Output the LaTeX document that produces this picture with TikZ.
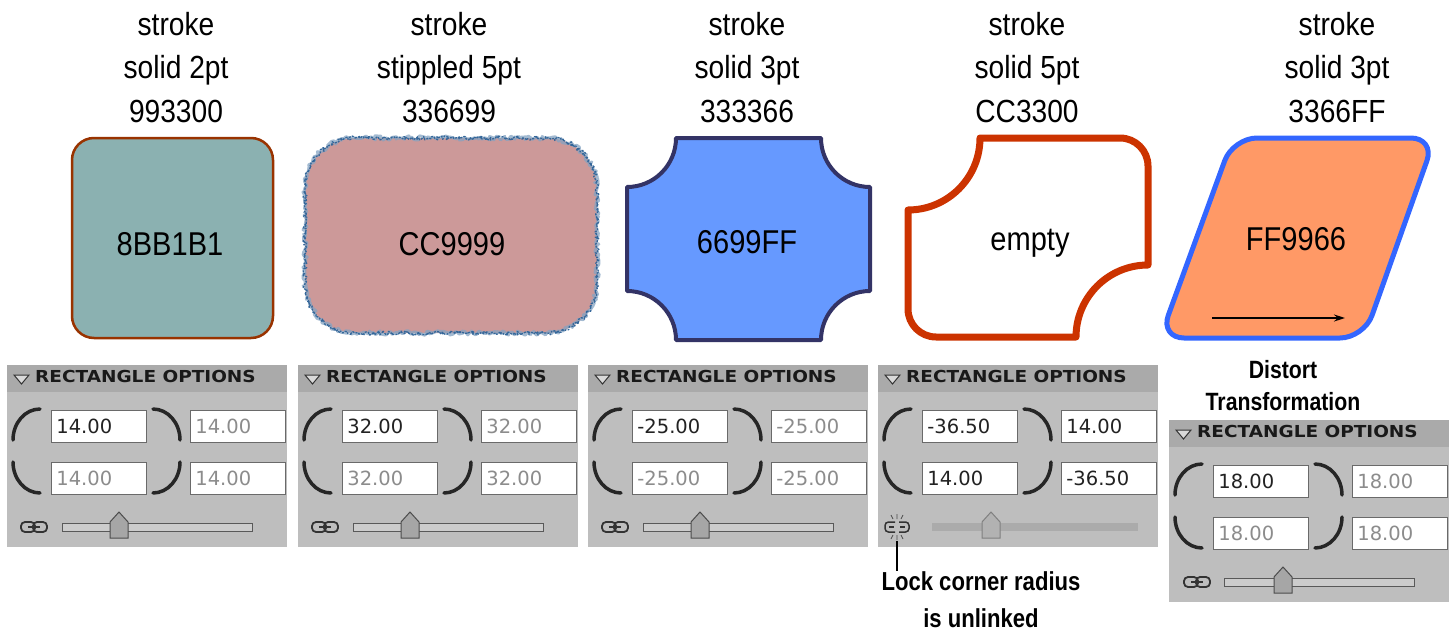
\documentclass[tikz,border=0pt]{standalone}
\usepackage{fontspec}
\setmainfont{Liberation Sans}
\newfontfamily\labfont[FakeStretch=0.88]{Liberation Sans}
\newfontfamily\notefont[FakeStretch=0.85]{Liberation Sans}
\newfontfamily\hdrfont[FakeStretch=1.12]{DejaVu Sans}
\newfontfamily\boxfont{DejaVu Sans}
\usetikzlibrary{decorations.pathmorphing,arrows.meta}
\definecolor{tealfill}{HTML}{8BB1B1}
\definecolor{tealline}{HTML}{993300}
\definecolor{pinkfill}{HTML}{CC9999}
\definecolor{pinkline}{HTML}{336699}
\definecolor{bluefill}{HTML}{6699FF}
\definecolor{blueline}{HTML}{333366}
\definecolor{redline}{HTML}{CC3300}
\definecolor{orangefill}{HTML}{FF9966}
\definecolor{orangeline}{HTML}{3366FF}
\definecolor{hdrgray}{HTML}{AAAAAA}
\definecolor{bodygray}{HTML}{BEBEBE}
\definecolor{valdark}{HTML}{222222}
\definecolor{valgray}{HTML}{8C8C8C}
\definecolor{boxedge}{HTML}{6A6A6A}
\newcommand\rpanel[8]{%
  \fill[hdrgray] (#1,#2) rectangle ({#1+280},{#2+27});
  \fill[bodygray] (#1,{#2+27}) rectangle ({#1+280},{#2+182});
  \draw[fill=white!85!black, draw=black!80, line width=1pt] ({#1+7},{#2+10}) -- ({#1+22},{#2+10}) -- ({#1+14.5},{#2+19}) -- cycle;
  \node[hdr] (#3h) at ({#1+28},{#2+17}) {RECTANGLE OPTIONS};
  \node[valbox, text=valdark] (#3a) at ({#1+44},{#2+45}) {#4};
  \node[valbox, text=#8] (#3b) at ({#1+183},{#2+45}) {#5};
  \node[valbox, text=#8] (#3c) at ({#1+44},{#2+97}) {#6};
  \node[valbox, text=#8] (#3d) at ({#1+183},{#2+97}) {#7};
  \draw[brk] ({#1+33},{#2+44}) arc[start angle=270, end angle=180, x radius=27, y radius=31];
  \draw[brk] ({#1+6},{#2+97}) arc[start angle=180, end angle=90, x radius=27, y radius=31];
  \draw[brk] ({#1+146},{#2+44}) arc[start angle=270, end angle=360, x radius=27, y radius=31];
  \draw[brk] ({#1+173},{#2+97}) arc[start angle=0, end angle=90, x radius=27, y radius=31];
}
\newcommand\rslider[4]{% L, T, thumb offset, track end offset
  \draw[fill=black!20, draw=black!65, line width=1pt] ({#1+55},{#2+158}) rectangle ({#1+#4},{#2+166});
  \draw[fill=black!35, draw=black!70, line width=1pt] ({#1+#3-9},{#2+173}) -- ({#1+#3+9},{#2+173}) -- ({#1+#3+9},{#2+157}) -- ({#1+#3},{#2+147}) -- ({#1+#3-9},{#2+157}) -- cycle;
}
\newcommand\rlink[2]{%
  \draw[lnk, rounded corners=4pt] ({#1-13},{#2-5}) rectangle ({#1+1},{#2+5});
  \draw[lnk, rounded corners=4pt] ({#1-1},{#2-5}) rectangle ({#1+13},{#2+5});
  \draw[lnk] ({#1-6},#2) -- ({#1+6},#2);
}
\newcommand\pinkpath{(355,138) -- (547,138) arc[start angle=-90, end angle=0, radius=50]
  -- (597,283) arc[start angle=0, end angle=90, radius=50]
  -- (355,333) arc[start angle=90, end angle=180, radius=50]
  -- (305,188) arc[start angle=180, end angle=270, radius=50] -- cycle}
\begin{document}
\begin{tikzpicture}[x=1pt,y=-1pt,
  toplabel/.style={font=\labfont\fontsize{32}{43.5}\selectfont, align=center, anchor=north, inner sep=0pt},
  inlabel/.style={font=\labfont\fontsize{33}{40}\selectfont, anchor=base, inner sep=0pt},
  note/.style={font=\notefont\bfseries\fontsize{26}{37}\selectfont, align=center, anchor=north, inner sep=0pt},
  hdr/.style={font=\hdrfont\bfseries\fontsize{16.5}{18}\selectfont, text=black!90, anchor=base west, inner sep=0pt},
  valbox/.style={draw=boxedge, fill=white, line width=0.8pt, anchor=north west, minimum width=95pt, minimum height=32pt, text width=85pt, align=left, inner xsep=5pt, inner ysep=0pt, font=\boxfont\fontsize{19.5}{22}\selectfont},
  brk/.style={draw=black!85, line width=3.5pt, line cap=round},
  lnk/.style={draw=black!80, line width=1.8pt}
]
\useasboundingbox (0,0) rectangle (1454,634);
\fill[white] (0,0) rectangle (1454,634);

% top labels
\node[toplabel] (t1) at (176,12) {stroke\\solid 2pt\\993300};
\node[toplabel] (t2) at (449,12) {stroke\\stippled 5pt\\336699};
\node[toplabel] (t3) at (747,12) {stroke\\solid 3pt\\333366};
\node[toplabel] (t4) at (1027,12) {stroke\\solid 5pt\\CC3300};
\node[toplabel] (t5) at (1337,12) {stroke\\solid 3pt\\3366FF};

% shape 1
\draw[fill=tealfill, draw=tealline, line width=2.5pt, rounded corners=22pt] (72,138) rectangle (273,338);
% shape 2 (stippled border)
\fill[pinkfill] \pinkpath;
\draw[pinkline!60!white, line width=3pt, opacity=0.75, line join=round, line cap=round, decorate, decoration={random steps, segment length=2pt, amplitude=2.2pt}] \pinkpath;
\draw[pinkline, line width=1.3pt, line join=round, dash pattern=on 2pt off 1.2pt, decorate, decoration={random steps, segment length=1.5pt, amplitude=2pt}] \pinkpath;
% shape 3
\draw[fill=bluefill, draw=blueline, line width=4pt, line join=round]
  (676,138) -- (821,138) arc[start angle=180, end angle=90, radius=49]
  -- (870,291) arc[start angle=270, end angle=180, radius=49]
  -- (676,340) arc[start angle=0, end angle=-90, radius=49]
  -- (627,187) arc[start angle=90, end angle=0, radius=49] -- cycle;
% shape 4
\draw[draw=redline, line width=7pt, line join=round]
  (980,138) -- (1120,138) arc[start angle=-90, end angle=0, radius=28]
  -- (1148,265) arc[start angle=270, end angle=180, radius=72]
  -- (936,337) arc[start angle=90, end angle=180, radius=28]
  -- (908,210) arc[start angle=90, end angle=0, radius=72] -- cycle;
% shape 5
\draw[fill=orangefill, draw=orangeline, line width=5pt, rounded corners=24pt]
  (1233,138) -- (1435,138) -- (1364,338) -- (1160,338) -- cycle;
\coordinate (arrA) at (1212,318);
\coordinate (arrB) at (1345,318);
\draw[line width=1.5pt, -{Stealth[length=11pt,width=7pt]}] (arrA) -- (arrB);

% inner labels
\node[inlabel] (c1) at (170,255) {8BB1B1};
\node[inlabel] (c2) at (452,255) {CC9999};
\node[inlabel] (c3) at (747,253) {6699FF};
\node[inlabel] (c4) at (1030,250) {empty};
\node[inlabel] (c5) at (1296,250) {FF9966};

% panels
\rpanel{7}{365}{pA}{14.00}{14.00}{14.00}{14.00}{valgray}
\rslider{7}{365}{112}{245}
\rlink{34}{527}
\rpanel{298}{365}{pB}{32.00}{32.00}{32.00}{32.00}{valgray}
\rslider{298}{365}{112}{245}
\rlink{325}{527}
\rpanel{588}{365}{pC}{-25.00}{-25.00}{-25.00}{-25.00}{valgray}
\rslider{588}{365}{112}{245}
\rlink{615}{527}
\rpanel{878}{365}{pD}{-36.50}{14.00}{14.00}{-36.50}{valdark}
% disabled slider for panel 4
\fill[black!33] (932,523) rectangle (1138,531);
\draw[fill=black!30, draw=black!50, line width=1pt] (982,538) -- (1000,538) -- (1000,522) -- (991,512) -- (982,522) -- cycle;
% broken link icon
\draw[lnk, line width=1.5pt, rounded corners=3.5pt] (895,522) -- (885,522) -- (885,532) -- (895,532);
\draw[lnk, line width=1.5pt, rounded corners=3.5pt] (899,522) -- (909,522) -- (909,532) -- (899,532);
\draw[lnk, line width=1.5pt] (889,527) -- (894,527) (900,527) -- (905,527);
\draw[black!70, line width=0.8pt] (893,519) -- (891,515) (897,519) -- (897,514) (901,519) -- (903,515)
  (893,535) -- (891,539) (897,535) -- (897,540) (901,535) -- (903,539);
\coordinate (lk) at (897,541);
\node[note] (locknote) at (981,571) {Lock corner radius\\is unlinked};
\draw[line width=1.3pt] (lk) -- (lk |- locknote.north);

\node[note, font=\notefont\bfseries\fontsize{25}{32}\selectfont] (distort) at (1283,360) {Distort\\Transformation};
\rpanel{1169}{420}{pE}{18.00}{18.00}{18.00}{18.00}{valgray}
\rslider{1169}{420}{114}{245}
\rlink{1197}{582}
\end{tikzpicture}
\end{document}
